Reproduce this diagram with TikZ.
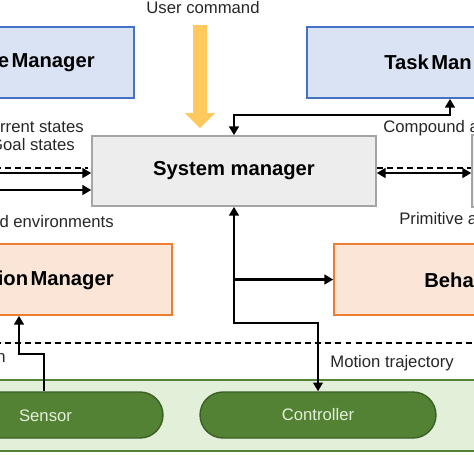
\documentclass[tikz,border=0pt]{standalone}
\usepackage{fontspec}
\setmainfont{Liberation Sans}
\usetikzlibrary{calc,arrows.meta}
\definecolor{BoxBlue}{HTML}{DAE3F3}
\definecolor{EdgeBlue}{HTML}{4472C4}
\definecolor{BoxGray}{HTML}{EDEDED}
\definecolor{EdgeGray}{HTML}{A5A5A5}
\definecolor{BoxOrange}{HTML}{FBE5D6}
\definecolor{EdgeOrange}{HTML}{ED7D31}
\definecolor{BandGreen}{HTML}{E2F0D9}
\definecolor{EdgeGreen}{HTML}{548235}
\definecolor{PillGreen}{HTML}{548235}
\definecolor{PillEdge}{HTML}{3B5E26}
\definecolor{CmdYellow}{HTML}{FFC95E}
\definecolor{TextGray}{HTML}{262626}
\newcommand{\tightsp}{\hspace{0.12em}}
\tikzset{
  bluebox/.style={draw=EdgeBlue, fill=BoxBlue, line width=0.9pt, inner sep=0pt, minimum height=1.42cm},
  graybox/.style={draw=EdgeGray, fill=BoxGray, line width=0.9pt, inner sep=0pt, minimum height=1.4cm},
  orangebox/.style={draw=EdgeOrange, fill=BoxOrange, line width=0.9pt, inner sep=0pt, minimum height=1.42cm},
  band/.style={draw=EdgeGreen, fill=BandGreen, line width=0.9pt, inner sep=0pt, minimum height=1.42cm, minimum width=10.4cm},
  pill/.style={draw=PillEdge, fill=PillGreen, line width=0.8pt, inner sep=0pt, minimum height=0.92cm, rounded corners=0.46cm},
  boxtitle/.style={font=\fontsize{11.5}{13}\selectfont\bfseries, text=black, inner sep=0pt},
  txtlabel/.style={font=\fontsize{9.5}{11}\selectfont, text=TextGray, inner sep=0pt},
  pilltext/.style={font=\fontsize{9.5}{11}\selectfont, text=BandGreen, inner sep=0pt},
  arrow/.style={-{Triangle[length=5pt,width=5.5pt]}, line width=1.7pt},
  dblarrow/.style={{Triangle[length=5pt,width=5.5pt]}-{Triangle[length=5pt,width=5.5pt]}, line width=1.7pt},
  dashline/.style={line width=0.6pt, dash pattern=on 3.4pt off 2.3pt}
}
\begin{document}
\begin{tikzpicture}[x=0.02cm, y=-0.02cm]
  \useasboundingbox (0,0) rectangle (474,474);
  \clip (0,0) rectangle (474,474);
  % boxes
  \node[bluebox, minimum width=4.68cm] (stateMgr) at (17,62.5) {};
  \node[bluebox, minimum width=5.46cm] (taskMgr) at (443.5,62.5) {};
  \node[graybox, minimum width=5.68cm] (sys) at (234,171) {};
  \node[graybox, minimum width=4.56cm, minimum height=1.44cm] (actMgr) at (586,171) {};
  \node[orangebox, minimum width=5.44cm] (motionMgr) at (36,279.5) {};
  \node[orangebox, minimum width=5.32cm] (behMgr) at (467,279.5) {};
  \node[band] (hw) at (237,415.5) {};
  \node[pill, minimum width=5.26cm] (sensor) at (31.5,415) {};
  \node[pill, minimum width=4.72cm] (ctrl) at (318,415) {};
  % titles
  \node[boxtitle, anchor=east] (stateTxt) at (95,63) {e\tightsp Manager};
  \node[boxtitle, anchor=west] (taskTxt) at (384,62) {Task\tightsp Man};
  \node[boxtitle] (sysTxt) at (sys) {System manager};
  \node[boxtitle, anchor=east] (motionTxt) at (114,280) {ion\tightsp Manager};
  \node[boxtitle, anchor=west] (behTxt) at (424,280) {Beha};
  \node[pilltext] (sensorTxt) at (45.5,416) {Sensor};
  \node[pilltext] (ctrlTxt) at (ctrl) {Controller};
  % labels
  \node[txtlabel] (cmd) at (203,8) {User command};
  \node[txtlabel, anchor=east] (curLbl) at (84,127) {rrent states};
  \node[txtlabel, anchor=east] (goalLbl) at (75,145) {Goal states};
  \node[txtlabel, anchor=east] (envLbl) at (114,222) {d environments};
  \node[txtlabel, anchor=west] (compLbl) at (383,128) {Compound a};
  \node[txtlabel, anchor=west] (primLbl) at (399,219) {Primitive a};
  \node[txtlabel, anchor=east] (nLbl) at (6,358) {n};
  \node[txtlabel, anchor=west] (trajLbl) at (330,363) {Motion trajectory};
  % user command arrow
  \fill[CmdYellow] (193,25) -- (207,25) -- (207,113) -- (215,113) -- (200,128)
    -- (185,113) -- (193,113) -- cycle;
  % free ends
  \coordinate (inA) at (-5,173);
  \coordinate (inB) at (-5,190);
  % connectors
  \draw[dashline] (-5,168) -- (88,168);
  \draw[arrow] (inA) -- (sys.west |- inA);
  \draw[arrow] (inB) -- (sys.west |- inB);
  \draw[dashline] (sys.east |- 0,168) -- (actMgr.west |- 0,168);
  \draw[dblarrow] (sys.east |- inA) -- (actMgr.west |- inA);
  \draw[dblarrow] (sys.north) |- (450,115) -- (taskMgr.south -| 450,0);
  \draw[dblarrow] (sys.south) -- (234,323) -| (ctrl.north);
  \draw[arrow] (sys.south |- behMgr.west) -- (behMgr.west);
  \draw[dashline] (-5,343) -- (480,343);
  \draw[arrow] (sensor.north -| 44,0) |- (19,354) -- (motionMgr.south -| 19,0);
\end{tikzpicture}
\end{document}
